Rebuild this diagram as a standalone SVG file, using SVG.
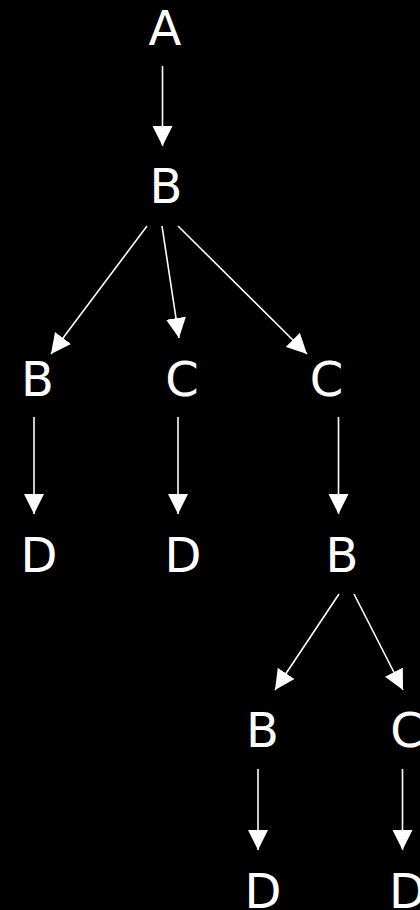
<svg xmlns="http://www.w3.org/2000/svg" width="420" height="910" viewBox="0 0 420 910">
<style>
.lbl{font-family:"DejaVu Sans",Verdana,sans-serif;font-size:48px;fill:#fff;text-anchor:middle}
.edge{stroke:#fff;stroke-width:1.6;fill:none;marker-end:url(#ah)}
</style>
<defs>
<marker id="ah" markerUnits="userSpaceOnUse" markerWidth="20" markerHeight="20" refX="20" refY="10" orient="auto" viewBox="0 0 20 20">
<path d="M0,0 L20,10 L0,20 Z" fill="#fff"/>
</marker>
</defs>
<rect width="420" height="910" fill="#000"/>
<g id="connectors">
<line class="edge" x1="162.5" y1="66" x2="162.5" y2="146"/>
<line class="edge" x1="147" y1="226" x2="51" y2="354"/>
<line class="edge" x1="162" y1="226" x2="179" y2="338"/>
<line class="edge" x1="178" y1="226" x2="307" y2="354"/>
<line class="edge" x1="34" y1="417" x2="34" y2="514"/>
<line class="edge" x1="178" y1="417" x2="178" y2="514"/>
<line class="edge" x1="338.5" y1="417" x2="338.5" y2="514"/>
<line class="edge" x1="339" y1="594" x2="275" y2="690"/>
<line class="edge" x1="354" y1="594" x2="403" y2="690"/>
<line class="edge" x1="258" y1="769" x2="258" y2="850"/>
<line class="edge" x1="402.5" y1="769" x2="402.5" y2="850"/>
</g>
<g id="n_A"><text class="lbl" x="165" y="45">A</text></g>
<g id="n_B1"><text class="lbl" x="166" y="203">B</text></g>
<g id="n_B2"><text class="lbl" x="37.5" y="396">B</text></g>
<g id="n_C1"><text class="lbl" x="182" y="396">C</text></g>
<g id="n_C2"><text class="lbl" x="326.5" y="396">C</text></g>
<g id="n_D1"><text class="lbl" x="39" y="572">D</text></g>
<g id="n_D2"><text class="lbl" x="183" y="572">D</text></g>
<g id="n_B3"><text class="lbl" x="342" y="572">B</text></g>
<g id="n_B4"><text class="lbl" x="262.5" y="747">B</text></g>
<g id="n_C3"><text class="lbl" x="407" y="747">C</text></g>
<g id="n_D3"><text class="lbl" x="263" y="908">D</text></g>
<g id="n_D4"><text class="lbl" x="407.5" y="908">D</text></g>
</svg>
